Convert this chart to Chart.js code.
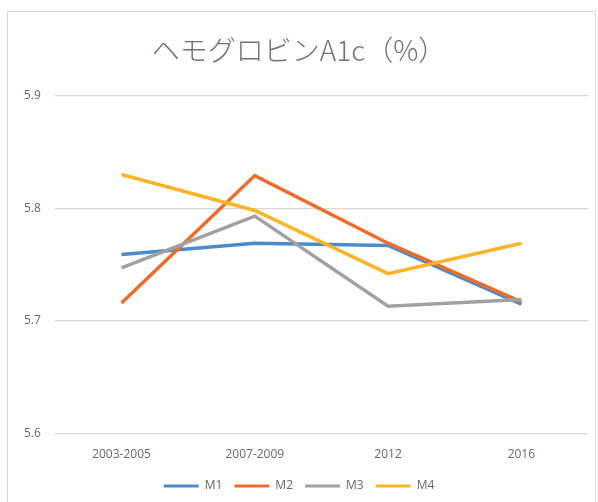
<!DOCTYPE html>
<html>
<head>
<meta charset="utf-8">
<script src="https://cdn.jsdelivr.net/npm/chart.js@4/dist/chart.umd.min.js"></script>
<style>
  body { margin: 0; background: #fff; }
  #wrap { position: relative; width: 598px; height: 502px; }
  #frame { position: absolute; left: 7px; top: 11px; width: 587px; height: 500px; border: 1px solid #dcd6d6; }
  #myChart { position: absolute; left: 0; top: 0; }
</style>
</head>
<body>
<div id="wrap">
  <div id="frame"></div>
  <canvas id="myChart" width="598" height="502"></canvas>
</div>
<script>
// данные
const labels = ['2003-2005', '2007-2009', '2012', '2016'];
const seriesNames = ['M1', 'M2', 'M3', 'M4'];
const m1 = [5.759, 5.769, 5.767, 5.715];
const m2 = [5.716, 5.829, 5.769, 5.717];
const m3 = [5.747, 5.793, 5.713, 5.719];
const m4 = [5.830, 5.798, 5.742, 5.769];
const yTicks = [5.6, 5.7, 5.8, 5.9];
const colors = ['#4a8bce', '#eb6d2c', '#a2a0a0', '#fbb425'];

const allValues = [m1, m2, m3, m4];
const textColor = '#6e6565';

let datasets = [];
allValues.forEach((vals, i) => {
  datasets.push({
    label: seriesNames[i],
    data: vals,
    borderColor: colors[i],
    backgroundColor: colors[i],
    borderWidth: 3.5,
    pointRadius: 0,
    tension: 0,
    order: allValues.length - i   // последняя серия сверху, как в Excel
  });
});

var ctx = document.getElementById('myChart').getContext('2d');
var myChart = new Chart(ctx, {
  type: 'line',
  data: { labels: labels, datasets: datasets },
  options: {
    responsive: false,
    animation: false,
    layout: { padding: { left: 10, right: 10, top: 34, bottom: 0 } },
    plugins: {
      tooltip: { enabled: false },
      title: {
        display: true,
        text: 'ヘモグロビンA1c（%）',
        color: '#7a7070',
        font: { family: '"Noto Sans CJK JP", "Open Sans", sans-serif', size: 28, weight: 300 },
        padding: { top: 0, bottom: 28 }
      },
      legend: {
        position: 'bottom',
        labels: {
          color: textColor,
          font: { family: '"Open Sans", "Liberation Sans", sans-serif', size: 12 },
          boxWidth: 35,
          boxHeight: 3,
          padding: 12,
          generateLabels: function (chart) {
            return chart.data.datasets.map((ds, i) => ({
              text: ds.label,
              fillStyle: ds.borderColor,
              strokeStyle: ds.borderColor,
              lineWidth: 0,
              fontColor: textColor,
              hidden: false,
              datasetIndex: i
            }));
          }
        }
      }
    },
    scales: {
      x: {
        offset: true,
        grid: { display: false },
        border: { display: false },
        ticks: {
          color: textColor,
          padding: 6,
          font: { family: '"Open Sans", "Liberation Sans", sans-serif', size: 12 }
        }
      },
      y: {
        min: 5.6,
        max: 5.9,
        afterBuildTicks: function (axis) {
          axis.ticks = yTicks.map(v => ({ value: v }));
        },
        grid: { color: '#dcd5d5', lineWidth: 1.3, drawTicks: false },
        border: { display: false },
        ticks: {
          color: textColor,
          padding: 14,
          font: { family: '"Open Sans", "Liberation Sans", sans-serif', size: 12 },
          callback: v => v.toFixed(1)
        }
      }
    }
  }
});
</script>
</body>
</html>
